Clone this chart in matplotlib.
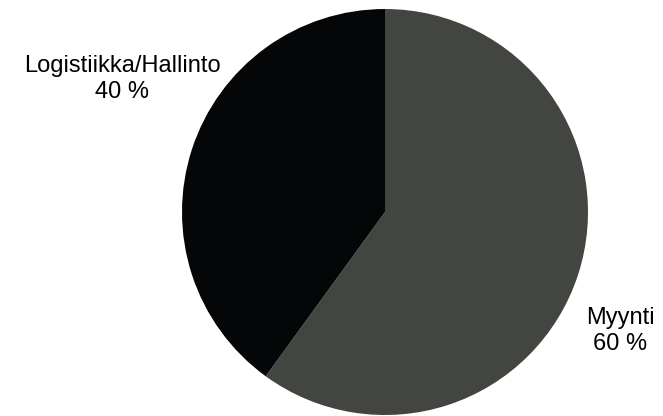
import matplotlib
matplotlib.use("Agg")
import matplotlib.pyplot as plt

categories = ["Myynti", "Logistiikka/Hallinto"]
shares = [60, 40]
colors = ["#434541", "#050608"]

plt.rcParams['font.family'] = ['Liberation Sans', 'DejaVu Sans']

fig = plt.figure(figsize=(6.63, 4.16), dpi=100)
# pie centre ~ (385, 212) px, radius ~ 203 px
cx, cy, r = 385, 212, 203
W, H = 663, 416
ax = fig.add_axes([(cx - r) / W, (H - cy - r) / H, 2 * r / W, 2 * r / H])
ax.pie(shares, colors=colors, startangle=90, counterclock=False,
       wedgeprops=dict(linewidth=0))
ax.set_xlim(-1, 1)
ax.set_ylim(-1, 1)
ax.set_aspect('equal')
ax.axis('off')

# label positions in radius units
label_pos = [(1.158, -0.586), (-1.295, 0.655)]
for name, val, (x, y) in zip(categories, shares, label_pos):
    ax.text(x, y, f"{name}\n{val} %", ha='center', va='center',
            fontsize=17, color='black', linespacing=1.2, clip_on=False)

fig.savefig("out.png", dpi=100)
